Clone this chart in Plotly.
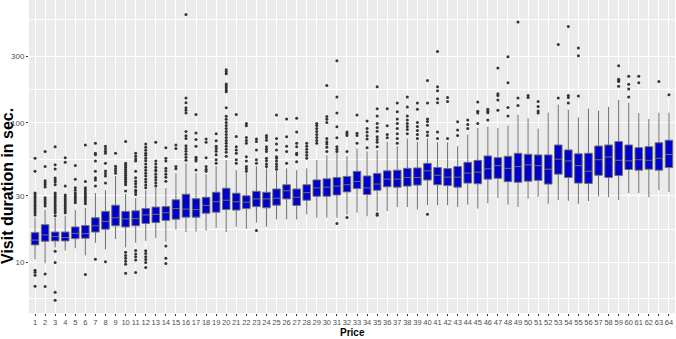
import math
import plotly.graph_objects as go

price = list(range(1, 65))

q1 = [13.35, 14.17, 14.25, 14.25, 14.81, 14.9, 16.5, 17.3, 18.3, 17.95,
      18.3, 19.0, 19.3, 20.0, 20.4, 21.1, 21.1, 22.5, 22.9, 23.9,
      23.7, 24.3, 25.1, 24.6, 25.7, 28.5, 25.6, 27.9, 29.8, 29.8,
      30.4, 32.0, 33.8, 30.6, 32.9, 34.8, 34.6, 35.2, 35.8, 38.9,
      36.0, 35.5, 34.6, 37.0, 36.6, 39.5, 40.0, 37.9, 37.5, 38.2,
      38.7, 36.4, 42.9, 40.6, 37.0, 36.8, 42.1, 40.6, 41.9, 46.3,
      45.8, 46.5, 45.8, 47.8]

median = [14.45, 15.73, 15.3, 15.06, 16.15, 16.07, 18.3, 19.67, 20.9, 20.5,
          20.6, 21.9, 22.1, 22.7, 24.3, 24.1, 23.9, 25.6, 27.2, 27.9,
          27.2, 27.0, 28.5, 28.5, 28.8, 32.6, 29.3, 31.6, 34.2, 34.6,
          35.2, 36.0, 38.0, 34.2, 36.4, 39.5, 39.5, 40.6, 40.6, 45.3,
          42.1, 40.8, 40.8, 43.6, 44.3, 46.8, 49.4, 47.2, 48.6, 50.0,
          49.4, 46.5, 54.9, 53.3, 49.4, 45.0, 54.4, 56.9, 53.9, 53.4,
          54.4, 53.9, 55.7, 59.3]

q3 = [16.34, 18.63, 16.5, 16.5, 17.95, 18.38, 20.9, 23.2, 25.7, 23.2,
      23.4, 24.3, 24.9, 25.1, 28.1, 30.8, 28.6, 29.3, 31.8, 34.0,
      31.3, 30.0, 32.3, 31.8, 33.6, 36.0, 33.6, 36.0, 39.0, 39.7,
      40.6, 41.3, 44.9, 41.6, 43.4, 45.3, 45.8, 47.2, 47.5, 51.2,
      47.8, 47.0, 48.6, 52.1, 53.9, 57.9, 56.3, 57.6, 60.5, 59.5,
      58.9, 58.9, 69.4, 64.0, 60.0, 60.5, 68.2, 69.4, 73.4, 69.4,
      66.4, 67.5, 72.0, 75.1]

lower = [10.5, 9.84, 12.78, 12.16, 12.63, 11.22, 13.8, 12.37, 14.7, 12.78,
         13.8, 14.25, 14.9, 14.1, 17.2, 16.5, 16.6, 16.9, 17.7, 16.5,
         18.0, 17.4, 19.3, 18.0, 20.3, 20.3, 20.3, 22.1, 20.9, 20.9,
         20.9, 22.1, 22.7, 21.4, 23.3, 23.3, 24.9, 24.9, 23.9, 25.7,
         25.7, 25.7, 24.9, 25.9, 24.3, 26.5, 29.0, 25.9, 24.9, 28.6,
         29.5, 26.3, 27.9, 27.6, 26.3, 27.5, 29.7, 29.3, 28.0, 31.4,
         31.4, 29.3, 33.0, 32.0]

upper = [20.89, 23.8, 20.9, 21.6, 23.8, 24.6, 31.4, 32.9, 41.6, 30.9,
         29.0, 32.9, 34.2, 34.2, 43.6, 51.4, 43.6, 42.9, 48.9, 54.0,
         45.8, 43.6, 48.9, 47.2, 45.1, 47.2, 45.8, 47.2, 54.0, 58.5,
         60.5, 57.6, 65.5, 62.5, 63.6, 73.1, 67.9, 77.3, 73.1, 77.3,
         72.6, 72.6, 67.9, 82.5, 92.0, 94.1, 92.0, 95.7, 114.5, 107.7,
         91.0, 118.3, 135, 124.3, 109.5, 126.4, 122.3, 130, 146, 139.4,
         117.4, 106.5, 118.3, 118.3]

outliers = [
    [55.7, 44.9, 31.4, 30.4, 29.5, 28.6, 27.7, 26.8, 25.8, 25.0, 24.2, 23.4, 22.7, 21.9, 8.77, 8.49, 8.08, 6.75],
    [62.2, 48.6, 38.4, 37.2, 36.0, 34.7, 29.0, 28.1, 27.2, 26.3, 25.4, 8.26, 6.72],
    [67.5, 50.0, 46.7, 40.2, 38.9, 37.6, 36.0, 31.4, 30.4, 29.5, 28.6, 27.7, 26.8, 25.8, 25.0, 24.2, 23.4, 22.7, 21.6, 12.0, 10.0, 6.12, 5.35],
    [56.3, 52.1, 35.2, 30.4, 29.5, 28.6, 27.7, 26.8, 25.8, 25.0, 24.2, 23.4, 22.7],
    [49.4, 39.5, 34.2, 32.9, 31.4, 30.4, 29.5, 28.6, 27.7, 26.8],
    [69.4, 38.0, 34.2, 33.1, 32.0, 30.9, 29.9, 29.0, 28.1, 27.2, 26.3, 8.2],
    [71.4, 60.5, 59.0, 53.3, 44.9, 40.4, 39.0, 35.2, 10.55],
    [67.9, 65.2, 62.5, 60.5, 51.4, 45.1, 43.3, 41.6, 37.0, 10.1],
    [60.5, 48.9, 47.0, 45.3, 43.6],
    [73.5, 51.4, 49.7, 48.1, 46.5, 45.0, 43.6, 42.1, 40.8, 39.5, 38.2, 37.0, 36.0, 32.5, 11.8, 11.2, 10.7, 10.2, 9.72, 8.35],
    [60.5, 57.6, 55.0, 53.3, 44.9, 40.4, 38.2, 36.6, 34.8, 32.9, 32.0, 30.6, 12.16, 11.5, 11.0, 10.4, 8.45],
    [70.4, 66.8, 63.6, 60.5, 58.5, 55.7, 53.5, 50.6, 48.1, 45.8, 43.6, 41.6, 39.5, 37.6, 35.8, 34.2, 12.1, 11.6, 11.0, 10.5, 10.0, 9.2],
    [72.6, 53.3, 50.6, 48.1, 46.0, 45.1, 42.9, 40.8, 38.9, 37.0, 35.3],
    [66.4, 55.7, 53.3, 47.2, 45.1, 42.9, 40.8, 38.1, 13.1, 10.7, 9.84],
    [69.4, 65.5, 48.6, 46.8],
    [598, 150.5, 139.4, 128.4, 123, 117.4, 86.7, 80.8, 77.3, 68.4, 65.5, 62.5, 59.5, 56.6, 54.0],
    [114.5, 84.5, 76.0, 68.0, 56.6, 54.9, 53.3, 46.0],
    [76.5, 72.6, 56.3, 48.6, 46.5, 44.9],
    [83.6, 74.4, 68.0, 65.5, 62.5, 59.0, 54.4, 51.4],
    [240.4, 232, 224.6, 190, 184, 178, 172, 167, 128, 111.5, 106, 100.6, 95.7, 91.0, 86.7, 82.5, 78.6, 74.8, 71.4, 67.9, 64.6, 61.5, 57.6],
    [114.5, 79.9, 67.5, 63.9, 60.5, 54.4, 51.4],
    [98.9, 95.3, 78.6, 74.8, 71.4, 57.1, 53.3, 48.6, 46.8, 44.9],
    [76.5, 73.5, 63.9, 54.4, 51.4, 16.9],
    [81.0, 78.6, 75.1, 67.5, 64.6, 62.2, 55.7, 53.5, 50.6, 48.6],
    [113.6, 77.3, 70.4, 63.9, 57.1, 55.7, 53.3, 50.6, 48.6, 46.5],
    [106.5, 79.4, 68.0, 62.2, 51.4],
    [107.7, 86.0, 71.4, 67.5, 60.5, 59.0, 52.6],
    [71.4, 67.9, 64.6, 61.5, 58.5, 55.7],
    [98.9, 95.7, 91.0, 86.7, 82.5, 78.6, 74.8, 71.4],
    [185, 110.9, 106, 100.6, 77.3, 73.1, 70.4, 66.8, 62.2],
    [278.6, 153.2, 117.4, 93.7, 78.3, 67.5, 64.6, 62.2, 19.0],
    [86.0, 83.6, 81.0, 62.2, 21.0],
    [114, 84.1, 81.0, 71.4],
    [103, 91.0, 86.0, 80.8, 76.5, 66.4],
    [181.3, 126.4, 112.0, 98.9, 92.5, 87.0, 79.4, 76.0, 72.6, 67.5, 22.3, 21.8],
    [126.4, 95.3, 82.5, 78.3],
    [138.7, 120, 106.5, 98.9, 91.0, 83.6, 77.3, 71.4],
    [153.0, 130, 112, 104.6, 98.9, 94.1, 89.6, 83.6],
    [138.7, 125, 100.6, 94.1, 88.1, 82.5, 77.3],
    [200.8, 138.7, 106.5, 102.4, 96.2, 86.0, 81.0, 22.1],
    [324.6, 181.3, 170, 148.8, 139.4, 86.0, 77.3],
    [152, 142.3, 77.3],
    [101.9, 88.7, 81.0],
    [104.6, 97.4, 91.0],
    [141, 121, 117.4, 98.9],
    [125, 121, 118, 104.6],
    [247.2, 161.6, 156.9, 146, 122.9],
    [297.9, 193.4, 129, 112.0],
    [527.4, 150.5, 133],
    [156.9, 152],
    [142.3, 131, 121.7, 117.8],
    [],
    [364.4, 150.5],
    [489.2, 156.9, 152, 138.7],
    [343.1, 302.3, 155.4],
    [],
    [],
    [],
    [256.8, 205.4, 202.1, 197.6, 183.2],
    [215.9, 189.3, 174.6, 153.0],
    [215.9, 193.4],
    [],
    [197.6],
    [158.9],
]

y_ticks = [10, 30, 100, 300]
y_tick_labels = ["10", "30", "100", "300"]

# ggplot-style minor grid: midway (in log space) between major breaks
ext = [3] + y_ticks + [1000]
minor_vals = [math.sqrt(a * b) for a, b in zip(ext[:-1], ext[1:])]

fig = go.Figure()
fig.add_trace(go.Box(
    x=price, q1=q1, median=median, q3=q3,
    lowerfence=lower, upperfence=upper,
    fillcolor="#0000CD",
    line=dict(color="#707070", width=1),
    whiskerwidth=0, width=0.75, boxpoints=False,
    showlegend=False, hoverinfo="skip",
))

ox, oy = [], []
for p, vals in zip(price, outliers):
    ox += [p] * len(vals)
    oy += vals
fig.add_trace(go.Scatter(
    x=ox, y=oy, mode="markers",
    marker=dict(size=3, color="#333333"),
    showlegend=False, hoverinfo="skip",
))

W, H = 676, 339
ml, mr, mt, mb = 29, 1, 0, 26
pw, ph = W - ml - mr, H - mt - mb

fig.update_layout(
    width=W, height=H,
    margin=dict(l=ml, r=mr, t=mt, b=mb, pad=0),
    paper_bgcolor="white", plot_bgcolor="#EBEBEB",
    font=dict(family="Liberation Sans, Arial, sans-serif", size=8, color="#4D4D4D"),
    xaxis=dict(
        range=[0.4, 64.6], tickmode="array", tickvals=price,
        ticktext=[str(p) for p in price], tickangle=0,
        showgrid=True, gridcolor="white", gridwidth=1,
        ticks="outside", ticklen=2, tickwidth=1, tickcolor="#333333",
        tickfont=dict(size=7.5, color="#4D4D4D"),
        zeroline=False, showline=False, automargin=False,
    ),
    yaxis=dict(
        type="log", range=[0.6375, 2.88],
        tickmode="array", tickvals=y_ticks, ticktext=y_tick_labels,
        showgrid=True, gridcolor="white", gridwidth=1,
        minor=dict(tickmode="array", tickvals=minor_vals, showgrid=True,
                   gridcolor="white", gridwidth=0.5, ticks=""),
        ticks="outside", ticklen=2, tickwidth=1, tickcolor="#333333",
        tickfont=dict(size=8, color="#4D4D4D"),
        zeroline=False, showline=False, automargin=False,
    ),
    annotations=[
        dict(text="Price", xref="paper", yref="paper",
             x=0.5, y=-(H - ph) / ph, xanchor="center", yanchor="bottom",
             borderpad=0, showarrow=False,
             font=dict(size=10, color="black", weight="bold")),
        dict(text="Visit duration in sec.", xref="paper", yref="paper",
             x=(8 - ml) / pw, y=(ph - 186) / ph, xanchor="center", yanchor="middle",
             textangle=-90, showarrow=False,
             font=dict(size=16, color="black", weight="bold")),
    ],
)

fig.write_html(
    "out.html",
    config={"displayModeBar": False},
    post_script="document.body.style.margin='0';document.body.style.overflow='hidden';",
)
